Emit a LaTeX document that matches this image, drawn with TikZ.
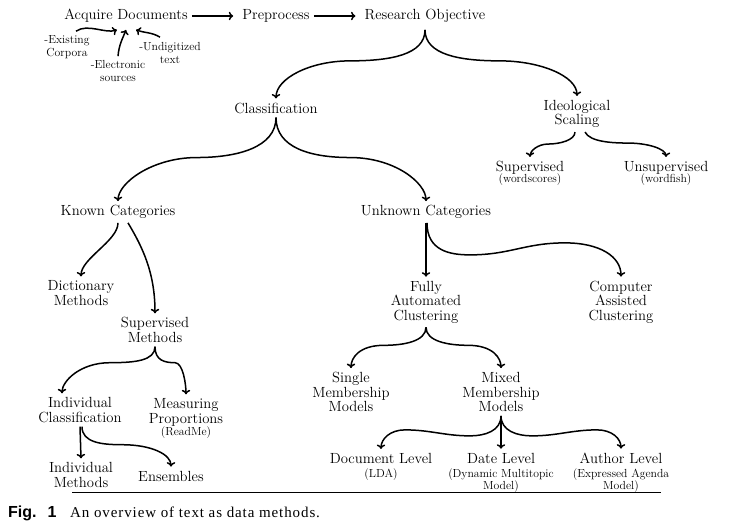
\documentclass[tikz,border=0pt]{standalone}
\usepackage{fontspec}
\newfontfamily\capsans{Liberation Sans}
\newfontfamily\capserif[LetterSpace=6]{Liberation Serif}
\usetikzlibrary{arrows.meta}
\newcommand{\subtxt}{\fontsize{11.7}{13}\selectfont}

\begin{document}
\begin{tikzpicture}[x=1pt,y=-1pt]
    \tikzset{item/.style = {align=center, font=\fontsize{14.7}{14.5}\selectfont, inner sep=4pt}}
    \tikzset{note/.style = {align=center, font=\subtxt, inner sep=1pt}}
    \tikzset{branch/.style = {->, >={Computer Modern Rightarrow[length=4.5pt,width=8.5pt]}, line width=1.5pt}}
    \useasboundingbox (0,0) rectangle (744,529);
    % top row
    \node[item] (ad) at (126,16) {Acquire Documents};
    \node[item] (pp) at (276,16) {Preprocess};
    \node[item] (ro) at (425,16) {Research Objective};
    \node[note] (ex) at (67,47) {-Existing\\Corpora};
    \node[note] (el) at (118,71) {-Electronic\\sources};
    \node[note] (un) at (170,53) {-Undigitized\\text};
    % objectives
    \node[item] (cl) at (276,108) {Classification};
    \node[item] (is) at (577,114) {Ideological\\Scaling};
    \node[item] (sv) at (530,173.5) {Supervised\\[-3pt]{\subtxt (wordscores)}};
    \node[item] (us) at (666,173.5) {Unsupervised\\[-3pt]{\subtxt (wordfish)}};
    % known categories
    \node[item] (kc) at (118,212) {Known Categories};
    \node[item] (dm) at (81,293) {Dictionary\\Methods};
    \node[item] (sm) at (155,330) {Supervised\\Methods};
    \node[item] (ic) at (80,410) {Individual\\Classification};
    \node[item] (mp) at (186,418.5) {Measuring\\Proportions\\[-2pt]{\subtxt (ReadMe)}};
    \node[item] (im) at (81,475) {Individual\\Methods};
    \node[item] (en) at (171,476) {Ensembles};
    % unknown categories
    \node[item] (uc) at (426,212) {Unknown Categories};
    \node[item] (fa) at (426,302) {Fully\\Automated\\Clustering};
    \node[item] (ca) at (621,302) {Computer\\Assisted\\Clustering};
    \node[item] (smm) at (351,392) {Single\\Membership\\Models};
    \node[item] (mm) at (501,392) {Mixed\\Membership\\Models};
    \node[item] (dl) at (381,467) {Document Level\\{\subtxt (LDA)}};
    \node[item] (dt) at (501,472.5) {Date Level\\{\subtxt (Dynamic Multitopic}\\[-3pt]{\subtxt Model)}};
    \node[item] (al) at (621,472.5) {Author Level\\{\subtxt (Expressed Agenda}\\[-3pt]{\subtxt Model)}};
    %edges
    \draw[branch] (ad.east) -- ([xshift=-5pt]pp.west);
    \draw[branch] (pp.east) -- ([xshift=-5pt]ro.west);
    \draw[branch] ([xshift=9pt,yshift=3pt]ex.north) .. controls +(12,-8) and +(-12,4) .. ([xshift=-9pt,yshift=-3pt]ad.south);
    \draw[branch] ([yshift=3pt]el.north) .. controls +(1,-12) and +(-3,8) .. ([yshift=-3pt]ad.south);
    \draw[branch] ([xshift=-10pt,yshift=4pt]un.north) .. controls +(-8,-5) and +(8,3) .. ([xshift=10pt,yshift=-3pt]ad.south);
    \draw[branch] ([yshift=-3pt]ro.south) .. controls +(0,25) and +(40,0) .. ++(-75,31) .. controls +(-40,0) and +(0,-20) .. (cl.north);
    \draw[branch] ([yshift=-3pt]ro.south) .. controls +(0,25) and +(-40,0) .. ++(75,31) .. controls +(40,0) and +(0,-20) .. (is.north);
    \draw[branch] (cl.south) .. controls +(0,30) and +(40,0) .. ++(-79,40) .. controls +(-45,0) and +(0,-18) .. (kc.north);
    \draw[branch] (cl.south) .. controls +(0,30) and +(-40,0) .. ++(74,40) .. controls +(45,0) and +(0,-18) .. (uc.north);
    \draw[branch] ([xshift=-2pt]is.south) .. controls +(0,8) and +(12,0) .. ++(-27,12) .. controls +(-10,0) and +(0,-6) .. (sv.north);
    \draw[branch] ([xshift=8pt]is.south) .. controls +(5,10) and +(-15,0) .. ++(43,11) .. controls +(20,0) and +(0,-8) .. (us.north);
    \draw[branch] (kc.south) .. controls +(0,18) and +(0,-18) .. (dm.north);
    \draw[branch] ([xshift=10pt]kc.south) .. controls +(15,25) and +(0,-40) .. (sm.north);
    \draw[branch] (sm.south) .. controls +(0,14) and +(25,0) .. ++(-45,16) .. controls +(-30,0) and +(0,-12) .. ([xshift=-18pt]ic.north);
    \draw[branch] (sm.south) .. controls +(0,14) and +(-10,0) .. ++(20,16) .. controls +(8,0) and +(0,-10) .. (mp.north);
    \draw[branch] (ic.south) -- (im.north);
    \draw[branch] ([xshift=2pt]ic.south) .. controls +(0,16) and +(-20,0) .. ++(40,18) .. controls +(30,0) and +(0,-12) .. (en.north);
    \draw[branch] (uc.south) -- (fa.north);
    \draw[branch] ([xshift=1pt]uc.south) .. controls +(0,28) and +(-20,0) .. ++(43,32) .. controls +(40,0) and +(-40,0) .. ++(95,-12) .. controls +(35,0) and +(0,-20) .. (ca.north);
    \draw[branch] (fa.south) .. controls +(0,14) and +(20,0) .. ++(-42,18) .. controls +(-25,0) and +(0,-10) .. (smm.north);
    \draw[branch] (fa.south) .. controls +(0,14) and +(-20,0) .. ++(42,18) .. controls +(25,0) and +(0,-10) .. (mm.north);
    \draw[branch] (mm.south) .. controls +(0,15) and +(15,0) .. ++(-31,20) .. controls +(-25,0) and +(25,0) .. ++(-65,-6) .. controls +(-15,0) and +(0,-10) .. (dl.north);
    \draw[branch] (mm.south) -- (dt.north);
    \draw[branch] (mm.south) .. controls +(0,15) and +(-15,0) .. ++(31,20) .. controls +(25,0) and +(-25,0) .. ++(65,-6) .. controls +(15,0) and +(0,-10) .. (al.north);
    % caption
    \draw[line width=0.6pt] (72,492) -- (661,492);
    \node[anchor=base west, inner sep=0pt, font=\capsans\bfseries\fontsize{16}{18}\selectfont] (fig) at (8,517) {Fig.\hspace{11pt}1};
    \node[anchor=base west, inner sep=0pt, font=\capserif\fontsize{15}{18}\selectfont] (cap) at (70,517) {An overview of text as data methods.};
\end{tikzpicture}
\end{document}
